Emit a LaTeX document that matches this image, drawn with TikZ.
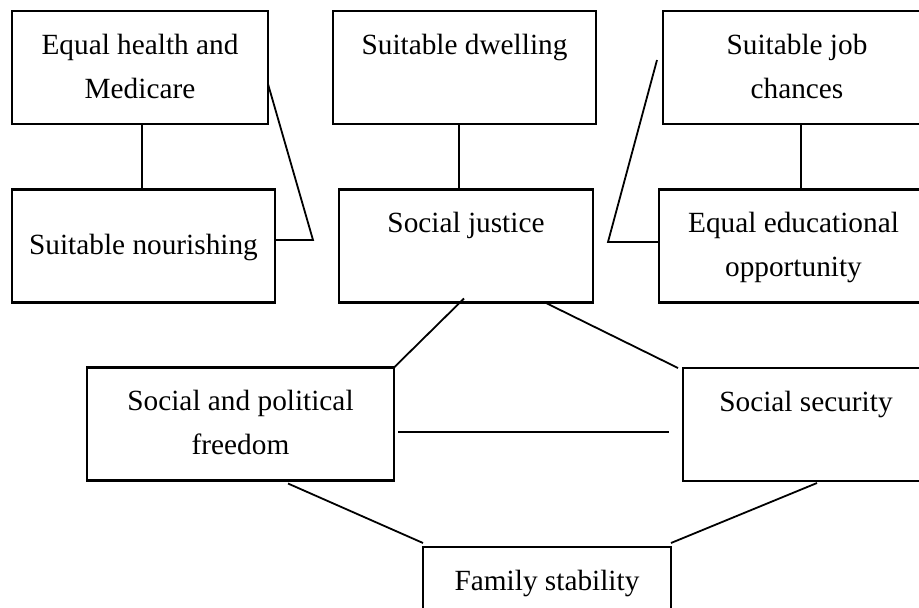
\documentclass[tikz,border=0pt]{standalone}
\usepackage{fontspec}
\setmainfont{Liberation Serif}
\usepackage{tikz}
\usetikzlibrary{positioning}
\usetikzlibrary{calc}

\tikzset{
  box/.style={draw, line width=2.6pt, outer sep=0pt, inner sep=0pt, minimum height=113pt, align=center, font=\fontsize{29.3}{44}\selectfont},
  link/.style={line width=1.8pt}
}

\begin{document}
\begin{tikzpicture}[x=1pt, y=-1pt]
 \useasboundingbox (0,0) rectangle (919,608);
 \clip (0,0) rectangle (919,608);

 %level 1
 \node[ box, minimum width=256pt ] (health) at (140,67.5) {Equal health and\strut\\Medicare\strut};
 \node[ box, minimum width=263pt ] (dwelling) at (464.5,67.5) {Suitable dwelling\strut\\\strut};
 \node[ box, minimum width=268pt ] (job) at (797,67.5) {Suitable job\strut\\chances\strut};

 %level 2
 \node[ box, minimum width=263pt ] (nourishing) at (143.5,246) {Suitable nourishing\strut};
 \node[ box, minimum width=254pt ] (justice) at (466,246) {Social justice\strut\\\strut};
 \node[ box, minimum width=269pt ] (edu) at (793.5,246) {Equal educational\strut\\opportunity\strut};

 %level 3
 \node[ box, minimum width=307pt ] (polfree) at (240.5,424) {Social and political\strut\\freedom\strut};
 \node[ box, minimum width=246pt ] (security) at (806,424.5) {Social security\strut\\\strut};
 \node[ box, minimum width=248pt ] (family) at (547,603.5) {Family stability\strut\\\strut};

 %bends
 \coordinate (hjoin) at (313,240);
 \coordinate (jjoin) at (608,242);

 %links
 \draw[link] ([xshift=2pt]health.south) -- ([xshift=-1.5pt]nourishing.north);
 \draw[link] ([yshift=-16.5pt]health.east) -- (hjoin) -- (nourishing.east |- hjoin);
 \draw[link] ([xshift=-5.5pt]dwelling.south) -- ([xshift=-7pt]justice.north);
 \draw[link] ([xshift=-6pt, yshift=7.5pt]job.west) -- (jjoin) -- (edu.west |- jjoin);
 \draw[link] ([xshift=4pt]job.south) -- ([xshift=7.5pt]edu.north);

 \draw[link] ([xshift=-2pt, yshift=4pt]justice.south) -- (polfree.north east);
 \draw[link] ([xshift=79pt]justice.south) -- ([xshift=-5pt]security.north west);
 \draw[link] ([xshift=4pt, yshift=-8pt]polfree.east) -- ([xshift=-14pt, yshift=-7.5pt]security.west);

 \draw[link] ([xshift=47.5pt, yshift=-3pt]polfree.south) -- ([yshift=4pt]family.north west);
 \draw[link] ([xshift=11pt, yshift=-2pt]security.south) -- ([yshift=4pt]family.north east);

\end{tikzpicture}
\end{document}
